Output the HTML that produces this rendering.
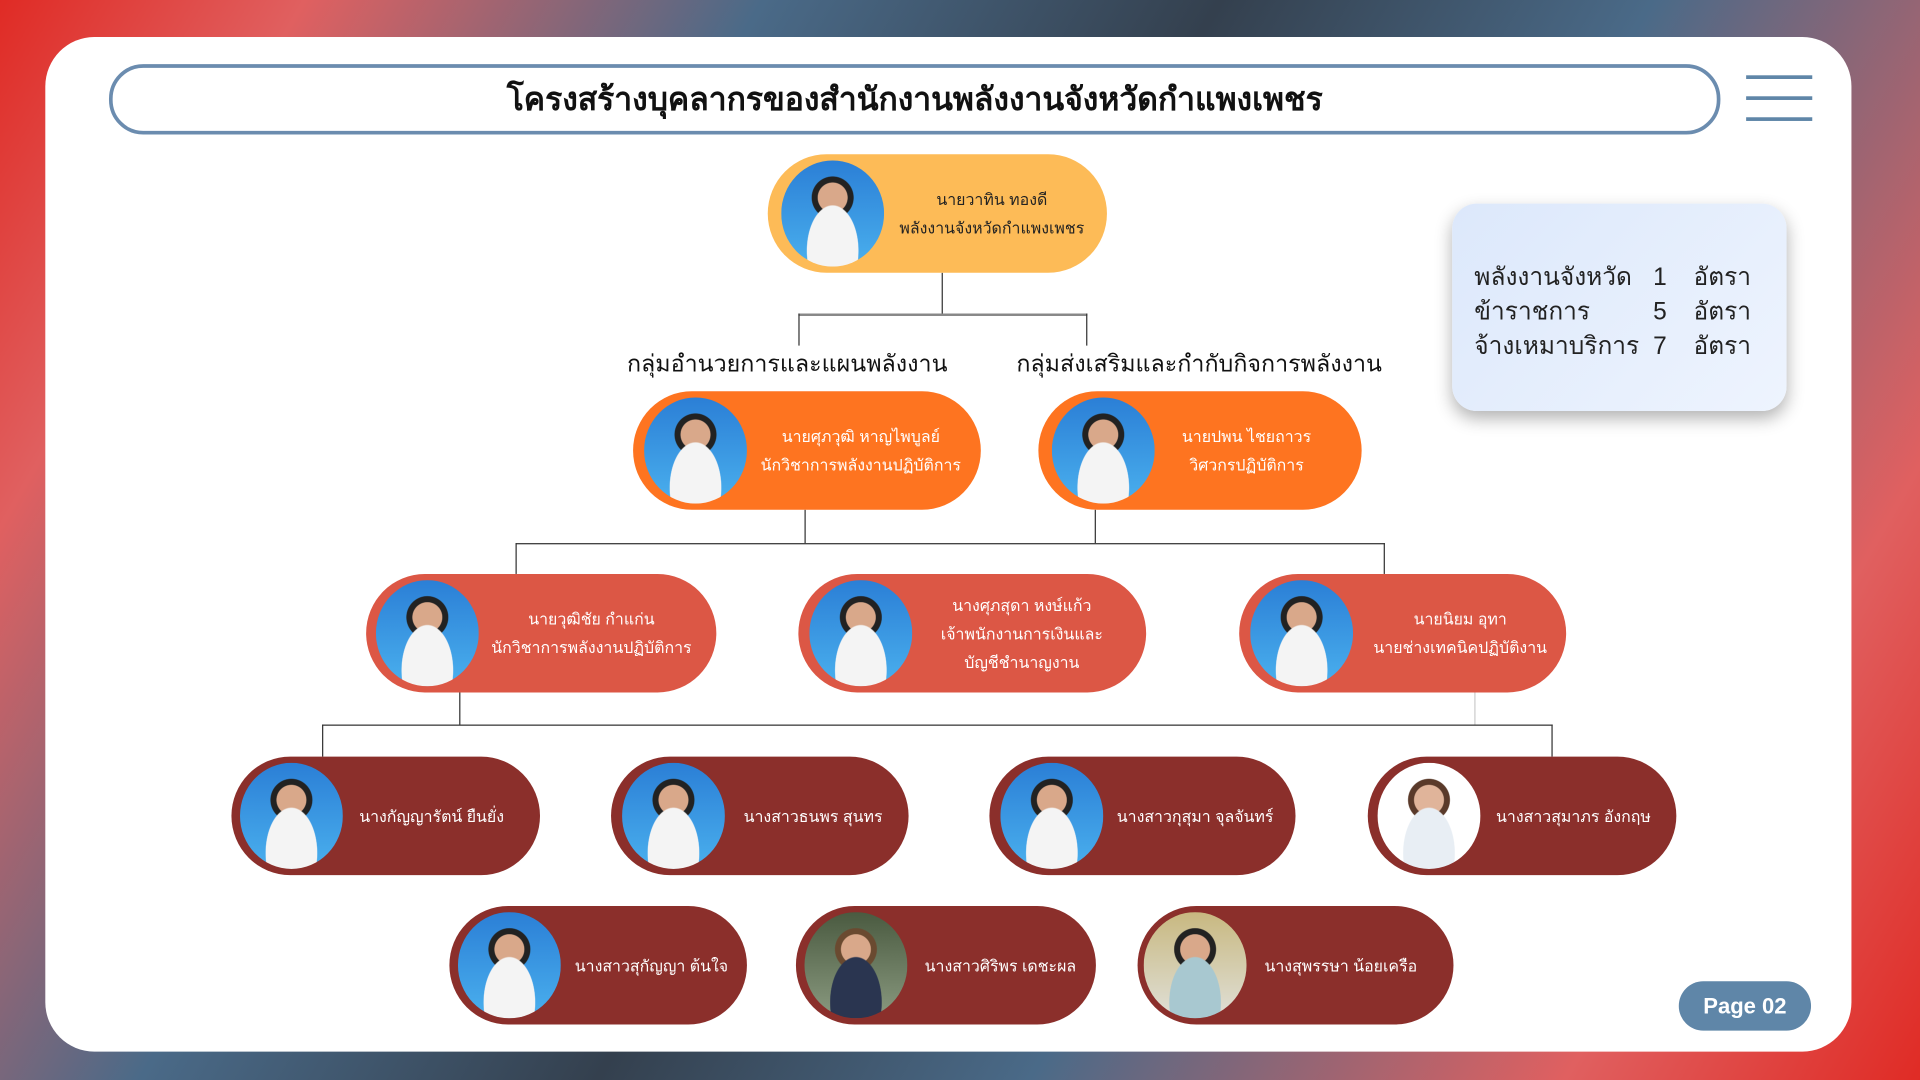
<!DOCTYPE html>
<html><head><meta charset="utf-8"><style>
html,body{margin:0;padding:0;width:1920px;height:1080px;overflow:hidden}
body{background:linear-gradient(120deg,#e02b25 0%,#e06060 12%,#4a6a88 30%,#34404e 48%,#4a6a88 65%,#e06060 86%,#e02b25 100%)}
#w{position:absolute;left:0;top:0;width:1568px;height:875px;transform:scale(1.2245,1.2343);transform-origin:0 0;font-family:"Liberation Sans","Noto Sans CJK SC",sans-serif}
.card{position:absolute;left:37px;top:30px;width:1475px;height:822px;background:#fff;border-radius:40px}
.title{position:absolute;left:89px;top:52px;width:1310px;height:51px;border:3px solid #6b8caf;border-radius:28px;text-align:center;line-height:51px;font-weight:bold;font-size:26px;color:#111}
.hb{position:absolute;left:1426px;width:54px;height:3px;background:#5f86a8}
.n{position:absolute;height:96px;border-radius:48px}
.p{position:absolute;width:84px;height:86px;border-radius:50%;top:5px;background:radial-gradient(ellipse at 50% 85%,#f4f4f4 0 35%,transparent 36%),radial-gradient(circle at 50% 35%,#d9a88a 0 17%,#222 18% 24%,transparent 25%),linear-gradient(#2b7fd6,#4ab0ee)}
.t{position:absolute;top:0;height:96px;display:flex;flex-direction:column;justify-content:center;align-items:center;color:#fff;font-size:13px;line-height:23px;text-align:center;white-space:nowrap}
.l{position:absolute;background:#333}
.g{position:absolute;font-size:19px;color:#111;top:280px}
.info{position:absolute;left:1186px;top:165px;width:273px;height:168px;border-radius:20px;background:linear-gradient(135deg,#dce8fb,#eef4fe);box-shadow:0 6px 14px rgba(0,0,0,.3)}
.row{position:absolute;left:18px;width:250px;height:28px;font-size:20px;line-height:28px;color:#222;white-space:nowrap}
.row span{position:absolute;top:0}
</style></head><body><div id="w">
<div class="card"></div>
<div class="title">โครงสร้างบุคลากรของสำนักงานพลังงานจังหวัดกำแพงเพชร</div>
<div class="hb" style="top:61px"></div><div class="hb" style="top:78px"></div><div class="hb" style="top:95px"></div>

<div class="l" style="left:769px;top:221px;width:1px;height:33px"></div>
<div class="l" style="left:652px;top:254px;width:236px;height:2px;background:#888"></div>
<div class="l" style="left:652px;top:254px;width:1px;height:26px"></div>
<div class="l" style="left:887px;top:254px;width:1px;height:26px"></div>
<div class="l" style="left:657px;top:413px;width:1px;height:27px"></div>
<div class="l" style="left:894px;top:413px;width:1px;height:27px"></div>
<div class="l" style="left:421px;top:440px;width:710px;height:1px"></div>
<div class="l" style="left:421px;top:440px;width:1px;height:25px"></div>
<div class="l" style="left:1130px;top:440px;width:1px;height:25px"></div>
<div class="l" style="left:375px;top:561px;width:1px;height:26px"></div>
<div class="l" style="left:1204px;top:561px;width:1px;height:26px;background:#ccc"></div>
<div class="l" style="left:263px;top:587px;width:1005px;height:1px"></div>
<div class="l" style="left:263px;top:587px;width:1px;height:26px"></div>
<div class="l" style="left:1267px;top:587px;width:1px;height:26px"></div>

<div class="g" style="left:512px">กลุ่มอำนวยการและแผนพลังงาน</div>
<div class="g" style="left:830px">กลุ่มส่งเสริมและกำกับกิจการพลังงาน</div>

<div class="n" style="left:627px;top:125px;width:277px;background:#fdbb57"><div class="p" style="left:11px"></div><div class="t" style="left:98px;width:170px;color:#222">นายวาทิน ทองดี<br>พลังงานจังหวัดกำแพงเพชร</div></div>

<div class="n" style="left:517px;top:317px;width:284px;background:#fe7420"><div class="p" style="left:9px"></div><div class="t" style="left:96px;width:180px">นายศุภวุฒิ หาญไพบูลย์<br>นักวิชาการพลังงานปฏิบัติการ</div></div>
<div class="n" style="left:848px;top:317px;width:264px;background:#fe7420"><div class="p" style="left:11px"></div><div class="t" style="left:100px;width:140px">นายปพน ไชยถาวร<br>วิศวกรปฏิบัติการ</div></div>

<div class="n" style="left:299px;top:465px;width:286px;background:#dc5745"><div class="p" style="left:8px"></div><div class="t" style="left:94px;width:180px">นายวุฒิชัย กำแก่น<br>นักวิชาการพลังงานปฏิบัติการ</div></div>
<div class="n" style="left:652px;top:465px;width:284px;background:#dc5745"><div class="p" style="left:9px"></div><div class="t" style="left:100px;width:165px">นางศุภสุดา หงษ์แก้ว<br>เจ้าพนักงานการเงินและ<br>บัญชีชำนาญงาน</div></div>
<div class="n" style="left:1012px;top:465px;width:267px;background:#dc5745"><div class="p" style="left:9px"></div><div class="t" style="left:98px;width:165px">นายนิยม อุทา<br>นายช่างเทคนิคปฏิบัติงาน</div></div>

<div class="n" style="left:189px;top:613px;width:252px;background:#8b2f2b"><div class="p" style="left:7px"></div><div class="t" style="left:96px;width:135px">นางกัญญารัตน์ ยืนยั่ง</div></div>
<div class="n" style="left:499px;top:613px;width:243px;background:#8b2f2b"><div class="p" style="left:9px"></div><div class="t" style="left:100px;width:130px">นางสาวธนพร สุนทร</div></div>
<div class="n" style="left:808px;top:613px;width:250px;background:#8b2f2b"><div class="p" style="left:9px"></div><div class="t" style="left:98px;width:140px">นางสาวกุสุมา จุลจันทร์</div></div>
<div class="n" style="left:1117px;top:613px;width:252px;background:#8b2f2b"><div class="p" style="left:8px;background:radial-gradient(ellipse at 50% 85%,#e8eef4 0 35%,transparent 36%),radial-gradient(circle at 50% 35%,#e0b49a 0 17%,#5a3a2a 18% 24%,transparent 25%),#fff"></div><div class="t" style="left:98px;width:140px">นางสาวสุมาภร อังกฤษ</div></div>

<div class="n" style="left:367px;top:734px;width:243px;background:#8b2f2b"><div class="p" style="left:7px"></div><div class="t" style="left:96px;width:138px">นางสาวสุกัญญา ต้นใจ</div></div>
<div class="n" style="left:650px;top:734px;width:245px;background:#8b2f2b"><div class="p" style="left:7px;background:radial-gradient(ellipse at 50% 85%,#2a3550 0 35%,transparent 36%),radial-gradient(circle at 50% 35%,#d9a88a 0 17%,#6a4a30 18% 24%,transparent 25%),linear-gradient(#4a5a40,#8a9a80)"></div><div class="t" style="left:98px;width:138px">นางสาวศิริพร เดชะผล</div></div>
<div class="n" style="left:929px;top:734px;width:258px;background:#8b2f2b"><div class="p" style="left:5px;background:radial-gradient(ellipse at 50% 85%,#a8c8d0 0 35%,transparent 36%),radial-gradient(circle at 50% 35%,#d9a88a 0 17%,#222 18% 24%,transparent 25%),linear-gradient(#c8b880,#e0e0d8)"></div><div class="t" style="left:96px;width:140px">นางสุพรรษา น้อยเครือ</div></div>

<div class="info">
<div class="row" style="top:46px"><span style="left:0">พลังงานจังหวัด</span><span style="left:146px">1</span><span style="left:179px">อัตรา</span></div>
<div class="row" style="top:74px"><span style="left:0">ข้าราชการ</span><span style="left:146px">5</span><span style="left:179px">อัตรา</span></div>
<div class="row" style="top:102px"><span style="left:0">จ้างเหมาบริการ</span><span style="left:146px">7</span><span style="left:179px">อัตรา</span></div>
</div>

<div style="position:absolute;left:1371px;top:795px;width:108px;height:40px;border-radius:20px;background:#5f86a8;color:#fff;font-weight:bold;font-size:18px;text-align:center;line-height:40px">Page 02</div>
</div></body></html>
